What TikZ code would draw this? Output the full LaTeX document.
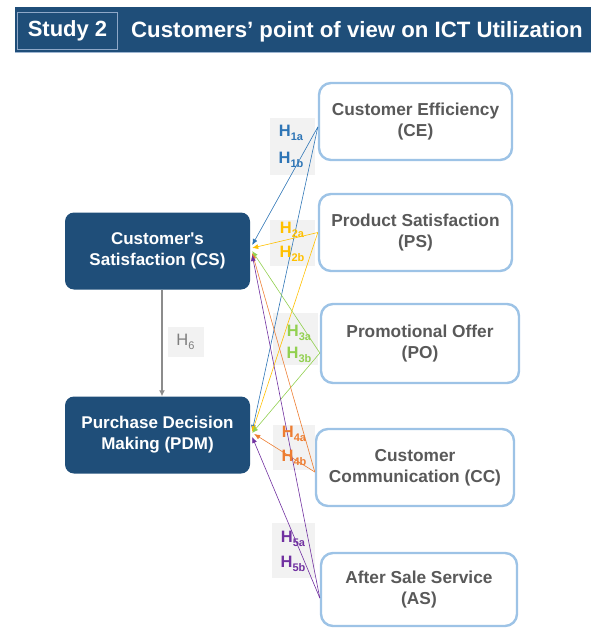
\documentclass[tikz,border=0pt]{standalone}
\usepackage{fontspec}
\setmainfont{Liberation Sans}
\usetikzlibrary{arrows.meta}

\definecolor{navy}{HTML}{1F4E79}
\definecolor{barline}{HTML}{9DB5D1}
\definecolor{studyedge}{HTML}{8FA8C8}
\definecolor{boxblue}{HTML}{9DC3E6}
\definecolor{txtgray}{HTML}{595959}
\definecolor{labgray}{HTML}{F2F2F2}
\definecolor{hone}{HTML}{2E75B6}
\definecolor{htwo}{HTML}{FFC000}
\definecolor{hthree}{HTML}{92D050}
\definecolor{hfour}{HTML}{ED7D31}
\definecolor{hfive}{HTML}{7030A0}
\definecolor{arrgray}{HTML}{8C8C8C}
\definecolor{hsixtext}{HTML}{7F7F7F}

% lowered small index after an H
\newcommand\hsub[1]{\raisebox{-4pt}{\fontsize{11}{11}\selectfont #1}}

\begin{document}
\begin{tikzpicture}[x=1pt,y=-1pt,
  leftbox/.style={fill=navy, rounded corners=9pt, minimum width=185pt,
    minimum height=77pt, text=white, align=center, inner sep=0pt,
    font=\bfseries\fontsize{17}{21}\selectfont},
  rightbox/.style={draw=boxblue, line width=2.4pt, fill=white,
    rounded corners=12pt, text=txtgray, align=center, inner sep=0pt,
    font=\bfseries\fontsize{17.3}{21}\selectfont},
  labbg/.style={fill=labgray},
  htext/.style={inner sep=0pt, font=\bfseries\fontsize{16.5}{16.5}\selectfont},
  hyp/.style={-{Latex[length=6pt,width=5pt]}, line width=0.6pt},
]
\useasboundingbox (0,0) rectangle (591,628);

% ---- title bar ----
\node[fill=navy, minimum width=576pt, minimum height=45pt, inner sep=0pt,
      anchor=north west] (bar) at (15,7) {};
\draw[barline, line width=1.2pt] (bar.south west) -- (bar.south east);
\node[draw=studyedge, line width=1pt, minimum width=100pt, minimum height=37pt,
      inner sep=0pt, anchor=north west, text=white,
      font=\bfseries\fontsize{22}{22}\selectfont] (study) at (17,12) {Study 2};
\node[anchor=base west, inner sep=0pt, text=white,
      font=\bfseries\fontsize{22.2}{22}\selectfont] (title) at (131,38)
      {Customers’ point of view on ICT Utilization};

% ---- dependent constructs ----
\node[leftbox] (cs)  at (157.5,251) {Customer\textquotesingle s\\Satisfaction (CS)};
\node[leftbox] (pdm) at (157.5,435) {Purchase Decision\\Making (PDM)};

% ---- ICT constructs ----
\node[rightbox, minimum width=193pt, minimum height=77pt] (ce) at (415.5,121.5) {Customer Efficiency\\(CE)};
\node[rightbox, minimum width=193pt, minimum height=77pt] (ps) at (415.5,232.5) {Product Satisfaction\\(PS)};
\node[rightbox, minimum width=198pt, minimum height=79pt] (po) at (420,343.5) {Promotional Offer\\(PO)};
\node[rightbox, minimum width=198pt, minimum height=77pt] (cc) at (415,467.5) {Customer\\Communication (CC)};
\node[rightbox, minimum width=196pt, minimum height=73pt] (as) at (419,589.5) {After Sale Service\\(AS)};

% ---- label backgrounds ----
\fill[labbg] (270,118) rectangle (315,175);
\fill[labbg] (270,220) rectangle (315,266);
\fill[labbg] (273,313) rectangle (318,365);
\fill[labbg] (273,425) rectangle (315,470);
\fill[labbg] (272,523) rectangle (315,578);

% ---- connector end points ----
\coordinate (ceS) at ([yshift=-5.5pt]ce.west);
\coordinate (psS) at (ps.west);
\coordinate (poS) at ([yshift=-9.5pt]po.west);
\coordinate (ccS) at ([yshift=-4.5pt]cc.west);
\coordinate (asS) at ([yshift=-8.5pt]as.west);

\coordinate (csA) at ([xshift=2pt,yshift=6pt]cs.east);
\coordinate (csB) at ([xshift=2pt,yshift=3pt]cs.east);
\coordinate (csC) at ([xshift=2pt,yshift=0pt]cs.east);
\coordinate (csD) at ([xshift=2pt,yshift=-2pt]cs.east);
\coordinate (csE) at ([xshift=2pt,yshift=-4pt]cs.east);

\coordinate (pdmA) at ([xshift=2pt,yshift=4pt]pdm.east);
\coordinate (pdmB) at ([xshift=2pt,yshift=3pt]pdm.east);
\coordinate (pdmC) at ([xshift=2pt,yshift=2pt]pdm.east);
\coordinate (pdmD) at ([xshift=4pt,yshift=1pt]pdm.east);
\coordinate (pdmE) at ([xshift=2pt,yshift=-2pt]pdm.east);

% ---- hypotheses ----
\draw[hyp, hone]   (ceS) -- (csA);
\draw[hyp, hone]   (ceS) -- (pdmA);
\draw[hyp, htwo]   (psS) -- (csB);
\draw[hyp, htwo]   (psS) -- (pdmB);
\draw[hyp, hthree] (poS) -- (csC);
\draw[hyp, hthree] (poS) -- (pdmC);
\draw[hyp, hfour]  (ccS) -- (csD);
\draw[hyp, hfour]  (ccS) -- (pdmD);
\draw[hyp, hfive]  (asS) -- (csE);
\draw[hyp, hfive]  (asS) -- (pdmE);

\node[htext, text=hone]   (h1a) at (291,133) {H\hsub{1a}};
\node[htext, text=hone]   (h1b) at (291,160) {H\hsub{1b}};
\node[htext, text=htwo]   (h2a) at (292,230) {H\hsub{2a}};
\node[htext, text=htwo]   (h2b) at (292,254) {H\hsub{2b}};
\node[htext, text=hthree] (h3a) at (299,333) {H\hsub{3a}};
\node[htext, text=hthree] (h3b) at (299,355) {H\hsub{3b}};
\node[htext, text=hfour]  (h4a) at (294,434) {H\hsub{4a}};
\node[htext, text=hfour]  (h4b) at (294,458) {H\hsub{4b}};
\node[htext, text=hfive]  (h5a) at (293,539) {H\hsub{5a}};
\node[htext, text=hfive]  (h5b) at (293,564) {H\hsub{5b}};

% ---- H6 ----
\draw[arrgray, line width=1.2pt, -{Latex[length=6pt,width=6pt]}]
  ([xshift=4.5pt]cs.south) -- ([xshift=4.5pt]pdm.north);
\node[fill=labgray, minimum width=36pt, minimum height=30pt, inner sep=0pt,
      text=hsixtext, font=\fontsize{16.5}{16.5}\selectfont] (h6) at (185.5,341.5) {H\hsub{6}};
\end{tikzpicture}
\end{document}
